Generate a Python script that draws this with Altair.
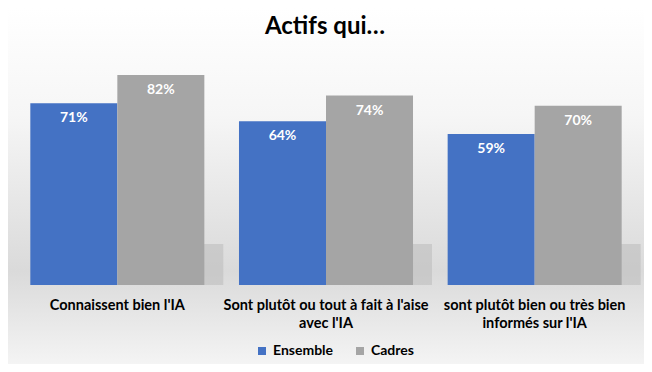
import altair as alt
import pandas as pd

title_text = "Actifs qui…"
categories = [
    "Connaissent bien l'IA",
    "Sont plutôt ou tout à fait à l'aise|avec l'IA",
    "sont plutôt bien ou très bien|informés sur l'IA",
]
series = ["Ensemble", "Cadres"]
ensemble = [71, 64, 59]
cadres = [82, 74, 70]
colors = ["#4472C4", "#A5A5A5"]
shadow_top = 16

rows = []
for i, c in enumerate(categories):
    rows.append({"cat": c, "serie": series[0], "value": ensemble[i]})
    rows.append({"cat": c, "serie": series[1], "value": cadres[i]})
df = pd.DataFrame(rows)
shadow_df = pd.DataFrame({"cat": categories, "top": [shadow_top] * 3, "base": [0] * 3})

W, H = 626, 256
FONT = "Lato"

bg = alt.Chart(alt.Data(values=[{}])).mark_rect(
    fill=alt.LinearGradient(
        gradient="linear", x1=0, y1=0, x2=0, y2=1,
        stops=[
            alt.GradientStop(offset=0, color="#ffffff"),
            alt.GradientStop(offset=0.3, color="#f6f6f6"),
            alt.GradientStop(offset=0.74, color="#dadada"),
            alt.GradientStop(offset=1, color="#f4f4f4"),
        ],
    ),
).encode(x=alt.value(-5), x2=alt.value(631), y=alt.value(-21), y2=alt.value(335))

title = alt.Chart(alt.Data(values=[{"t": title_text}])).mark_text(
    font=FONT, fontSize=24, fontWeight="bold", color="#000000",
    baseline="alphabetic", align="center",
).encode(x=alt.value(312), y=alt.value(5), text="t:N")

x_axis = alt.Axis(
    title=None, labelExpr="split(datum.label, '|')", labelAngle=0,
    domain=False, ticks=False, labelFont=FONT, labelFontSize=14.5,
    labelFontWeight="bold", labelColor="#000000", labelPadding=13,
    labelLineHeight=18, labelLimit=0, labelBaseline="top", zindex=2,
    labelAlign="center", bandPosition=0.5,
)
x_scale = alt.Scale(paddingInner=0.166, paddingOuter=0.083)
x_enc = alt.X("cat:N", sort=categories, scale=x_scale, axis=x_axis)
xo_enc = alt.XOffset("serie:N", sort=series, scale=alt.Scale(paddingInner=0, paddingOuter=0))
y_scale = alt.Scale(domain=[0, 100])
y_enc = alt.Y("value:Q", scale=y_scale, axis=None)

shadow = alt.Chart(shadow_df).mark_rule(
    strokeWidth=38, stroke="#b3b3b3", opacity=0.45,
).encode(
    x=alt.X("cat:N", sort=categories, scale=x_scale, bandPosition=1, axis=x_axis),
    y=alt.Y("top:Q", scale=y_scale, axis=None),
    y2="base:Q",
)

bars = alt.Chart(df).mark_bar().encode(
    x=x_enc, xOffset=xo_enc, y=y_enc,
    color=alt.Color(
        "serie:N", sort=series,
        scale=alt.Scale(domain=series, range=colors),
        legend=alt.Legend(
            title=None, orient="none", legendX=242, legendY=315,
            direction="horizontal", symbolType="square", symbolSize=64,
            symbolStrokeWidth=0, labelFont=FONT, labelFontSize=14,
            labelFontWeight="bold", labelColor="#000000", labelOffset=4,
            columnPadding=19, padding=0,
        ),
    ),
)

labels = alt.Chart(df).transform_calculate(
    lbl="datum.value + '%'"
).mark_text(
    font=FONT, fontSize=14, fontWeight="bold", color="white",
    baseline="middle", dy=15,
).encode(x=x_enc, xOffset=xo_enc, y=y_enc, text="lbl:N")

chart = alt.layer(bg, shadow, bars, labels, title).properties(
    width=W, height=H,
    autosize=alt.AutoSizeParams(type="none"),
    padding={"left": 5, "top": 21, "right": 5, "bottom": 79},
).configure_view(stroke=None).configure(background="#ffffff")

chart.save("out.html", embed_options={"renderer": "svg", "actions": False})
